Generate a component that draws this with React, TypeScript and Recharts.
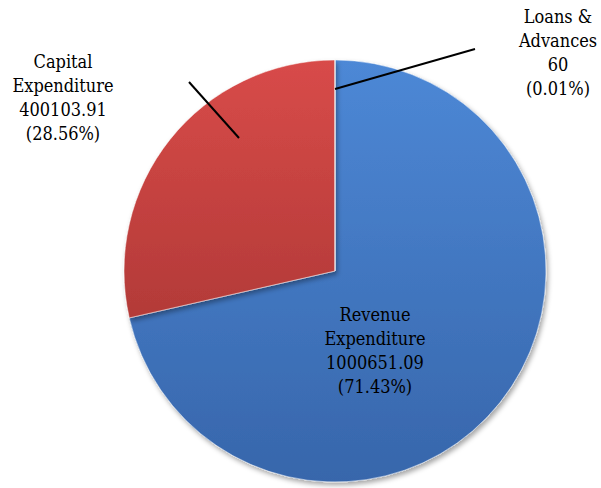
import { PieChart, Pie, Cell } from 'recharts';

const NAMES = ['Revenue Expenditure', 'Capital Expenditure', 'Loans & Advances'];
const VALUES = [1000651.09, 400103.91, 60];
const VALUE_TEXT = ['1000651.09', '400103.91', '60'];
const PERCENTS = ['71.43%', '28.56%', '0.01%'];
const LABEL_LINES = [
  ['Revenue', 'Expenditure'],
  ['Capital', 'Expenditure'],
  ['Loans &', 'Advances'],
];

const COLORS = [
  { top: '#4d88d6', bottom: '#3766ab', id: 'gBlue' },
  { top: '#d84b49', bottom: '#b33a38', id: 'gRed' },
  { top: '#8fb04e', bottom: '#6f8c3a', id: 'gGreen' },
];

const data = NAMES.map((name, i) => ({ name, value: VALUES[i] }));

// label placement relative to pie centre (Excel puts these by hand-ish)
const LABEL_POS = [
  { dx: 40, dy: 50, line: null },
  { dx: -272, dy: -203, line: [-146, -189, -96, -133] },
  { dx: 223, dy: -248, line: [0, -182, 140, -222] },
];

const FONT = '"DejaVu Serif Condensed", "DejaVu Serif", serif';

function renderLabel(props: any) {
  const { cx, cy, index } = props;
  const pos = LABEL_POS[index];
  const lines = [...LABEL_LINES[index], VALUE_TEXT[index], `(${PERCENTS[index]})`];
  const x = cx + pos.dx;
  const y = cy + pos.dy;
  return (
    <g key={`lbl-${index}`}>
      {pos.line && (
        <line
          x1={cx + pos.line[0]}
          y1={cy + pos.line[1]}
          x2={cx + pos.line[2]}
          y2={cy + pos.line[3]}
          stroke="#000"
          strokeWidth={2}
        />
      )}
      {lines.map((t, i) => (
        <text
          key={i}
          x={x}
          y={y + i * 24}
          textAnchor="middle"
          fontSize={18}
          fill="#000"
          style={{ fontFamily: FONT }}
        >
          {t}
        </text>
      ))}
    </g>
  );
}

export default function App() {
  return (
    <div style={{ position: 'absolute', left: 0, top: 0, width: 601, height: 488, background: '#fff' }}>
      <PieChart width={601} height={488} margin={{ top: 0, right: 0, bottom: 0, left: 0 }}>
        <defs>
          {COLORS.map((c) => (
            <linearGradient key={c.id} id={c.id} x1="0" y1="0" x2="0" y2="1">
              <stop offset="0%" stopColor={c.top} />
              <stop offset="100%" stopColor={c.bottom} />
            </linearGradient>
          ))}
          <filter id="shadow" x="-10%" y="-10%" width="120%" height="120%">
            <feDropShadow dx="2" dy="3" stdDeviation="2.5" floodColor="#000" floodOpacity="0.35" />
          </filter>
        </defs>
        <Pie
          data={data}
          dataKey="value"
          nameKey="name"
          cx={335}
          cy={271}
          outerRadius={211}
          startAngle={90}
          endAngle={-270}
          stroke="#ffffff"
          strokeWidth={1}
          label={renderLabel}
          labelLine={false}
          isAnimationActive={false}
          style={{ filter: 'url(#shadow)' }}
        >
          {data.map((d, i) => (
            <Cell key={d.name} fill={`url(#${COLORS[i].id})`} stroke="rgba(255,255,255,0.5)" />
          ))}
        </Pie>
      </PieChart>
    </div>
  );
}
